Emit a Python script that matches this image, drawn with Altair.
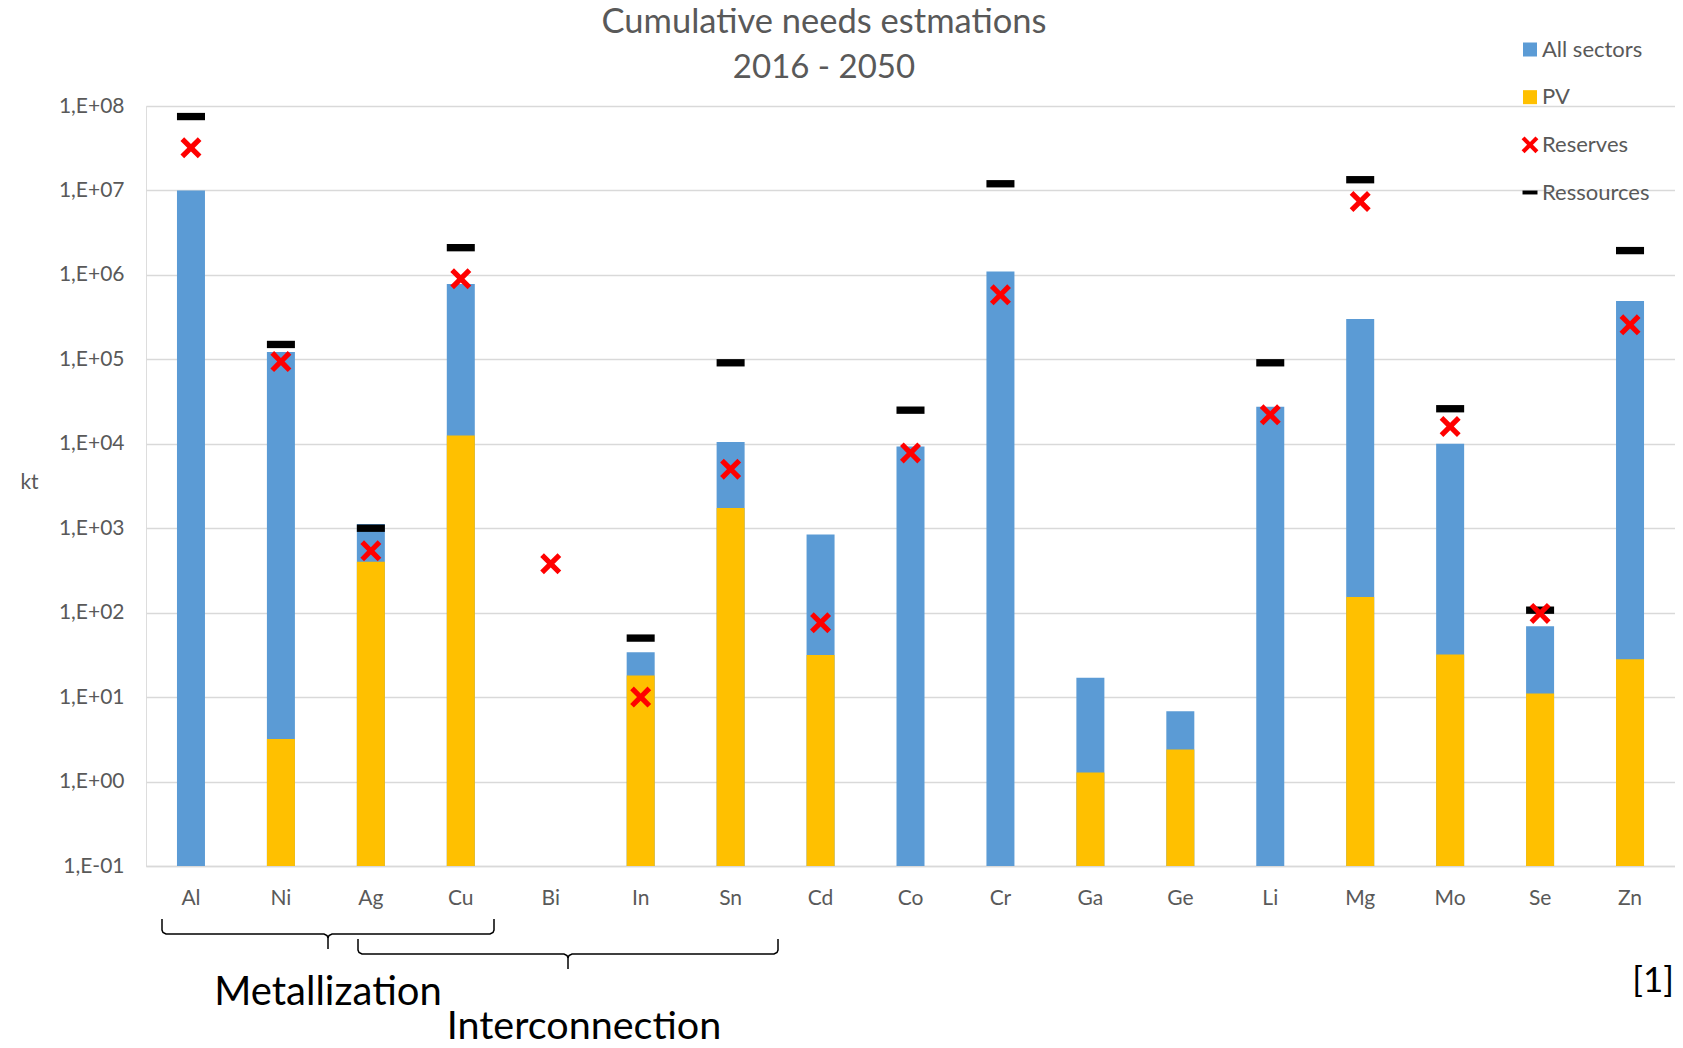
import altair as alt
import pandas as pd

# ---------------- data ----------------
metals = ["Al", "Ni", "Ag", "Cu", "Bi", "In", "Sn", "Cd", "Co", "Cr",
          "Ga", "Ge", "Li", "Mg", "Mo", "Se", "Zn"]
all_sectors = [1.0e7, 1.22e5, 1.12e3, 7.8e5, None, 34, 1.05e4, 840, 9.3e3, 1.1e6,
               17, 6.8, 2.75e4, 3.0e5, 1.0e4, 69, 4.9e5]
pv = [None, 3.2, 400, 1.25e4, None, 18, 1.74e3, 31.5, None, None,
      1.28, 2.4, None, 153, 32, 11, 28]
reserves = [3.2e7, 9.4e4, 540, 9.0e5, 380, 10, 5.0e3, 76, 7.8e3, 5.8e5,
            None, None, 2.2e4, 7.4e6, 1.6e4, 98, 2.56e5]
ressources = [7.5e7, 1.5e5, 1.0e3, 2.1e6, None, 50, 9.1e4, None, 2.5e4, 1.2e7,
              None, None, 9.1e4, 1.34e7, 2.6e4, 107, 1.94e6]

series_names = ["All sectors", "PV", "Reserves", "Ressources"]
series_colors = ["#5B9BD5", "#FFC000", "#FF0000", "#000000"]
y_ticks = [0.1, 1, 10, 100, 1e3, 1e4, 1e5, 1e6, 1e7, 1e8]
title_lines = ["Cumulative needs estmations", "2016 - 2050"]
group_labels = ["Metallization", "Interconnection"]
source_label = "[1]"
y_title = "kt"

rows = []
for m, a, p, r, s in zip(metals, all_sectors, pv, reserves, ressources):
    for name, v in zip(series_names, (a, p, r, s)):
        if v is not None:
            rows.append({"metal": m, "series": name, "value": v})
df = pd.DataFrame(rows)

# ---------------- styling ----------------
FONT = "Lato"
GRAY = "#595959"
GRID = "#D9D9D9"
W, H = 1529, 760

X_PATH = ("M-1.2,-0.78L-0.78,-1.2L0,-0.42L0.78,-1.2L1.2,-0.78L0.42,0"
          "L1.2,0.78L0.78,1.2L0,0.42L-0.78,1.2L-1.2,0.78L-0.42,0Z")
DASH_PATH = "M-1.07,-0.28H1.07V0.28H-1.07Z"
shape_range = ["square", "square", X_PATH, DASH_PATH]

color_scale = alt.Scale(domain=series_names, range=series_colors)
shape_scale = alt.Scale(domain=series_names, range=shape_range)

label_expr = ("'1,E' + (round(log(datum.value)/LN10) < 0 ? '-' : '+') + "
              "(abs(round(log(datum.value)/LN10)) < 10 ? '0' : '') + "
              "abs(round(log(datum.value)/LN10))")

x_enc = alt.X("metal:N", sort=metals,
              scale=alt.Scale(domain=metals, paddingInner=0, paddingOuter=0),
              axis=alt.Axis(title=None, labelAngle=0, ticks=False, grid=False,
                            domainColor=GRID, domainWidth=1.5, labelFontSize=21,
                            labelColor=GRAY, labelFont=FONT, labelPadding=21))
y_enc = alt.Y("value:Q",
              scale=alt.Scale(type="log", domain=[0.1, 1e8], nice=False),
              axis=alt.Axis(values=y_ticks, labelExpr=label_expr, title=y_title,
                            titleAngle=0, titleX=-117, titleY=376,
                            titleAlign="center", titleBaseline="middle",
                            titleFontSize=21, titleFontWeight="normal",
                            titleColor=GRAY, titleFont=FONT,
                            labelFontSize=21, labelColor=GRAY, labelFont=FONT,
                            labelPadding=22, ticks=False, domain=False,
                            gridColor=GRID, gridWidth=1.5))

color_enc = alt.Color("series:N", scale=color_scale, legend=None)
shape_enc = alt.Shape("series:N", scale=shape_scale, legend=None)

base = alt.Chart(df)

bar_all = base.transform_filter(alt.datum.series == "All sectors").mark_bar(size=28).encode(
    x=x_enc, y=y_enc, y2=alt.datum(0.1), color=color_enc)
bar_pv = base.transform_filter(alt.datum.series == "PV").mark_bar(size=28).encode(
    x=x_enc, y=y_enc, y2=alt.datum(0.1), color=color_enc)

pts_res = base.transform_filter(alt.datum.series == "Ressources").mark_point(
    filled=True, opacity=1, size=686, strokeWidth=0).encode(
    x=x_enc, y=y_enc, color=color_enc, shape=shape_enc)
pts_rsv = base.transform_filter(alt.datum.series == "Reserves").mark_point(
    filled=True, opacity=1, size=306, strokeWidth=0).encode(
    x=x_enc, y=y_enc, color=color_enc, shape=shape_enc)

inner = alt.layer(bar_all, bar_pv, pts_res, pts_rsv)

# ---------------- legend (built from the series lists) ----------------
leg_df = pd.DataFrame({"series": series_names})
leg_y = alt.Y("series:N", sort=series_names,
              scale=alt.Scale(type="point", domain=series_names,
                              range=[-56.5, 86.5], padding=0),
              axis=None)
leg_sym = alt.Chart(leg_df).mark_point(filled=True, opacity=1, size=196, strokeWidth=0).encode(
    x=alt.value(1384), y=leg_y, color=color_enc, shape=shape_enc)
leg_txt = alt.Chart(leg_df).mark_text(align="left", baseline="middle", font=FONT,
                                      fontSize=22, color=GRAY).encode(
    x=alt.value(1396), y=leg_y, text="series:N")

# ---------------- annotations (layout, plot-relative pixels) ----------------
def brace(L, R, C, top, h, tip, name):
    left = [(L, top), (L, h - 4), (L + 1, h - 1.5), (L + 4, h), (C - 4, h),
            (C - 1, h + 1.5), (C, h + 4), (C, tip)]
    right = [(R, top), (R, h - 4), (R - 1, h - 1.5), (R - 4, h), (C + 4, h),
             (C + 1, h + 1.5), (C, h + 4)]
    out = []
    for part, pts in (("l", left), ("r", right)):
        for i, (px, py) in enumerate(pts):
            out.append({"px": px, "py": py, "part": name + part, "ord": i})
    return out

brace_rows = brace(16, 348, 182, 813, 828, 843, "m") + brace(212, 632, 422, 833, 848, 863, "i")
braces = alt.Chart(pd.DataFrame(brace_rows)).mark_line(color="black", strokeWidth=1.5).encode(
    x=alt.X("px:Q", scale=None, axis=None),
    y=alt.Y("py:Q", scale=None, axis=None),
    detail="part:N", order="ord:Q")

def text_layer(t, x, y, size, color, align="center"):
    return alt.Chart(pd.DataFrame({"t": [t]})).mark_text(
        font=FONT, fontSize=size, color=color, align=align, baseline="middle").encode(
        x=alt.value(x), y=alt.value(y), text="t:N")

texts = [
    text_layer(title_lines[0], 678, -83, 34.5, GRAY),
    text_layer(title_lines[1], 678, -38, 33, GRAY),
    text_layer(group_labels[0], 182, 887, 40, "black"),
    text_layer(group_labels[1], 438, 921, 39.5, "black"),
    text_layer(source_label, 1528, 875, 35, "black", align="right"),
]

chart = alt.layer(inner, leg_sym, leg_txt, braces, *texts).resolve_scale(
    x="independent", y="independent"
).properties(
    width=W, height=H,
    autosize=alt.AutoSizeParams(type="none"),
    padding={"left": 138, "top": 98, "right": 0, "bottom": 174},
).configure_view(stroke=None).configure(font=FONT)

chart.save("out.html", embed_options={"renderer": "svg", "actions": False})
